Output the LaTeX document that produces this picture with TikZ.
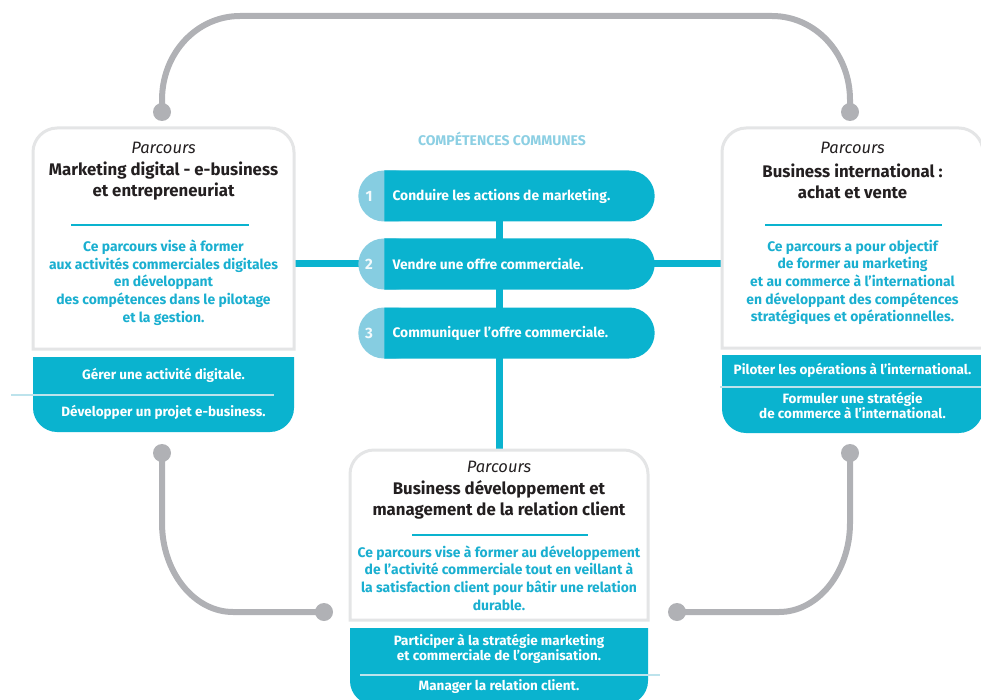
\documentclass[tikz,border=0pt]{standalone}
\usepackage{fontspec}
\setmainfont{Fira Sans}
\usetikzlibrary{shapes.misc}
\definecolor{tealc}{HTML}{0AB3CF}
\definecolor{teallight}{HTML}{86CDE1}
\definecolor{cyantext}{HTML}{1AAFD0}
\definecolor{headblue}{HTML}{8CCFE3}
\definecolor{linkgrey}{HTML}{B0B1B5}
\definecolor{framegrey}{HTML}{E4E5E6}
\definecolor{sepblue}{HTML}{BDE3EC}
\definecolor{titledark}{HTML}{231F20}

\begin{document}
\begin{tikzpicture}[x=1pt,y=-1pt,
  link/.style={line width=6pt, linkgrey},
  hub/.style={line width=7pt, tealc},
  pin/.style={circle, fill=linkgrey, inner sep=0pt, minimum size=18pt},
  frame/.style={line width=3pt, framegrey, fill=white},
  rule/.style={line width=2.5pt, tealc},
  sepline/.style={line width=2.5pt, sepblue},
  parcours/.style={font=\fontsize{16.5}{18}\selectfont\itshape, text=titledark},
  titre/.style={font=\fontsize{16.8}{21}\selectfont\bfseries, text=titledark, align=center},
  descr/.style={font=\fontsize{13.9}{17.7}\selectfont\bfseries, text=cyantext, align=center},
  skill/.style={font=\fontsize{13.5}{15.2}\selectfont\bfseries, text=white, align=center},
  pillback/.style={rounded rectangle, fill=teallight, minimum width=70pt, minimum height=51pt},
  pillbody/.style={rounded rectangle, rounded rectangle west arc=none, fill=tealc, minimum width=277pt, minimum height=51pt},
  pilltext/.style={font=\fontsize{13.8}{15}\selectfont\bfseries, text=white, anchor=west},
  pillnum/.style={font=\fontsize{15}{16}\selectfont\bfseries, text=white!90!teallight}]
\useasboundingbox (0,0) rectangle (981,700);

% pins of the grey links
\node[pin] (mkgTop) at (162,112) {};
\node[pin] (intTop) at (850,112) {};
\node[pin] (mkgBot) at (162,453) {};
\node[pin] (intBot) at (850,453) {};
\node[pin] (bdLeft) at (324,612) {};
\node[pin] (bdRight) at (677,612) {};

% grey links
\draw[link] (mkgTop.center) -- (162,100) .. controls (162,53) and (197,16) .. (240,16) -- (772,16) .. controls (815,16) and (850,53) .. (850,100) -- (intTop.center);
\draw[link] (mkgBot.center) -- (162,523) .. controls (162,572) and (194,612) .. (233,612) -- (bdLeft.center);
\draw[link] (bdRight.center) -- (779,612) .. controls (818,612) and (850,572) .. (850,523) -- (intBot.center);

% teal hub lines
\coordinate (hubTop) at (499,185);
\coordinate (hubBot) at (499,452);
\coordinate (hubL) at (294,264);
\coordinate (hubR) at (722,264);
\draw[hub] (hubTop) -- (hubBot);
\draw[hub] (hubL) -- (hubR);

% left box : marketing digital
\draw[frame] (33,349) -- (33,152) .. controls (33,139) and (44,128) .. (57,128) -- (270,128) .. controls (283,128) and (294,139) .. (294,152) -- (294,349) -- cycle;
\fill[tealc] (33,357) -- (294,357) -- (294,408) .. controls (294,421) and (283,432) .. (270,432) -- (57,432) .. controls (44,432) and (33,421) .. (33,408) -- cycle;
\draw[sepline] (11,395) -- (274,395);
\draw[rule] (71,225) -- (249,225);
\node[parcours] (mkgP) at (163.5,148) {Parcours};
\node[titre] (mkgT) at (163.5,181.5) {Marketing digital - e-business\\et entrepreneuriat};
\node[descr] (mkgD) at (163.5,282.5) {Ce parcours vise à former\\aux activités commerciales digitales\\en développant\\des compétences dans le pilotage\\et la gestion.};
\node[skill] (mkgS1) at (163.5,375) {Gérer une activité digitale.};
\node[skill] (mkgS2) at (163.5,412) {Développer un projet e-business.};

% right box : business international
\draw[frame] (722,348) -- (722,152) .. controls (722,139) and (733,128) .. (746,128) -- (959,128) .. controls (972,128) and (983,139) .. (983,152) -- (983,348) -- cycle;
\fill[tealc] (722,355) -- (983,355) -- (983,409) .. controls (983,422) and (972,433) .. (959,433) -- (746,433) .. controls (733,433) and (722,422) .. (722,409) -- cycle;
\draw[sepline] (720,387) -- (985,387);
\draw[rule] (765,225) -- (942,225);
\node[parcours] (intP) at (852.5,148) {Parcours};
\node[titre] (intT) at (852.5,181.5) {Business international :\\achat et vente};
\node[descr] (intD) at (852.5,282.5) {Ce parcours a pour objectif\\de former au marketing\\et au commerce à l’international\\en développant des compétences\\stratégiques et opérationnelles.};
\node[skill] (intS1) at (852.5,370) {Piloter les opérations à l’international.};
\node[skill] (intS2) at (852.5,405.5) {Formuler une stratégie\\de commerce à l’international.};

% bottom box : relation client
\draw[frame] (350,620) -- (350,474) .. controls (350,461) and (361,450) .. (374,450) -- (624,450) .. controls (637,450) and (648,461) .. (648,474) -- (648,620) -- cycle;
\fill[tealc] (350,628) -- (648,628) -- (648,681) .. controls (648,694) and (637,705) .. (624,705) -- (374,705) .. controls (361,705) and (350,694) .. (350,681) -- cycle;
\draw[sepline] (360,675) -- (660,675);
\draw[rule] (412,535) -- (588,535);
\node[parcours] (bdP) at (499,467) {Parcours};
\node[titre] (bdT) at (499,499.5) {Business développement et\\management de la relation client};
\node[descr] (bdD) at (499,578) {Ce parcours vise à former au développement\\de l’activité commerciale tout en veillant à\\la satisfaction client pour bâtir une relation\\durable.};
\node[skill] (bdS1) at (499,648.5) {Participer à la stratégie marketing\\et commerciale de l’organisation.};
\node[skill] (bdS2) at (499,687) {Manager la relation client.};

% common skills
\node[font=\fontsize{14}{15}\selectfont\bfseries, text=headblue] (compHead) at (502,139) {COMPÉTENCES COMMUNES};
\node[pillback] (back1) at (390,196) {};
\node[pillbody] (comp1) at (519.5,196) {};
\node[pillnum] (num1) at (369,196) {1};
\node[pilltext] (txt1) at (389,196) {Conduire les actions de marketing.};
\node[pillback] (back2) at (390,264) {};
\node[pillbody] (comp2) at (519.5,264) {};
\node[pillnum] (num2) at (369,264) {2};
\node[pilltext] (txt2) at (389,264) {Vendre une offre commerciale.};
\node[pillback] (back3) at (390,333) {};
\node[pillbody] (comp3) at (519.5,333) {};
\node[pillnum] (num3) at (369,333) {3};
\node[pilltext] (txt3) at (389,333) {Communiquer l’offre commerciale.};
\end{tikzpicture}
\end{document}
